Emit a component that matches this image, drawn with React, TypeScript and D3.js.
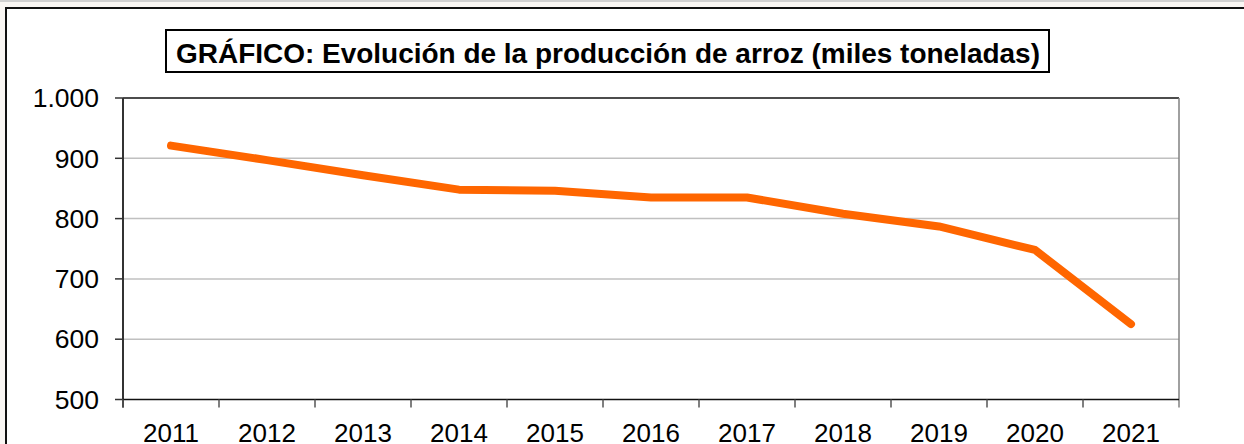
import React from "react";
import * as d3 from "d3";

const years = ["2011","2012","2013","2014","2015","2016","2017","2018","2019","2020","2021"];
const production = [921, 897, 872, 848, 846, 835, 835, 808, 787, 748, 625];
const yTicks = [500, 600, 700, 800, 900, 1000];
const titleText = "GRÁFICO: Evolución de la producción de arroz (miles toneladas)";

export default function App() {
  const W = 1244, H = 444;
  const left = 123, right = 1179, top = 98, bottom = 399.5;
  const x = d3.scaleBand<string>().domain(years).range([left, right]);
  const y = d3.scaleLinear().domain([500, 1000]).range([bottom, top]);
  const line = d3.line<number>()
    .x((_, i) => (x(years[i]) as number) + x.bandwidth() / 2)
    .y((d) => y(d));
  const font = "Arial, 'Liberation Sans', sans-serif";
  return (
    <svg width={W} height={H} style={{ position: "absolute", left: 0, top: 0, display: "block" }}>
      <rect x={0} y={0} width={W} height={H} fill="#f9f6f3" />
      <rect x={0} y={0} width={W} height={2} fill="#d0d0d0" />
      <rect x={6} y={8} width={W + 10} height={H + 10} fill="#ffffff" stroke="#111" strokeWidth={2} />
      {/* gridlines */}
      {yTicks.filter((t) => t !== 500 && t !== 1000).map((t) => (
        <line key={t} x1={left} x2={right} y1={y(t)} y2={y(t)} stroke="#c0c0c0" strokeWidth={1.5} />
      ))}
      <line x1={left} x2={right} y1={y(1000)} y2={y(1000)} stroke="#111" strokeWidth={1.5} />
      <line x1={right} x2={right} y1={top} y2={bottom + 8} stroke="#808080" strokeWidth={1.5} />
      {/* y axis */}
      <line x1={left} x2={left} y1={top} y2={bottom + 8} stroke="#333" strokeWidth={2} />
      {yTicks.map((t) => (
        <g key={t}>
          <line x1={left - 8} x2={left} y1={y(t)} y2={y(t)} stroke="#333" strokeWidth={1.5} />
          <text x={99} y={y(t)} dy="0.35em" textAnchor="end" fontFamily={font} fontSize={26.5} fill="#000">
            {d3.format(",")(t).replace(",", ".")}
          </text>
        </g>
      ))}
      {/* x axis */}
      <line x1={left} x2={right} y1={bottom} y2={bottom} stroke="#111" strokeWidth={1.5} />
      {years.map((yr) => (
        <g key={yr}>
          <line x1={x(yr) as number} x2={x(yr) as number} y1={bottom} y2={bottom + 8} stroke="#555" strokeWidth={1.5} />
          <text x={(x(yr) as number) + x.bandwidth() / 2} y={442} textAnchor="middle" fontFamily={font} fontSize={26} fill="#000">
            {yr}
          </text>
        </g>
      ))}
      <path d={line(production) || ""} fill="none" stroke="#ff6600" strokeWidth={8} strokeLinecap="round" strokeLinejoin="round" />
      {/* title */}
      <rect x={166} y={30} width={883} height={42} fill="#fff" stroke="#000" strokeWidth={2} />
      <text x={608} y={63} textAnchor="middle" fontFamily={font} fontWeight="bold" fontSize={27} textLength={864} lengthAdjust="spacingAndGlyphs" fill="#000">
        {titleText}
      </text>
    </svg>
  );
}
